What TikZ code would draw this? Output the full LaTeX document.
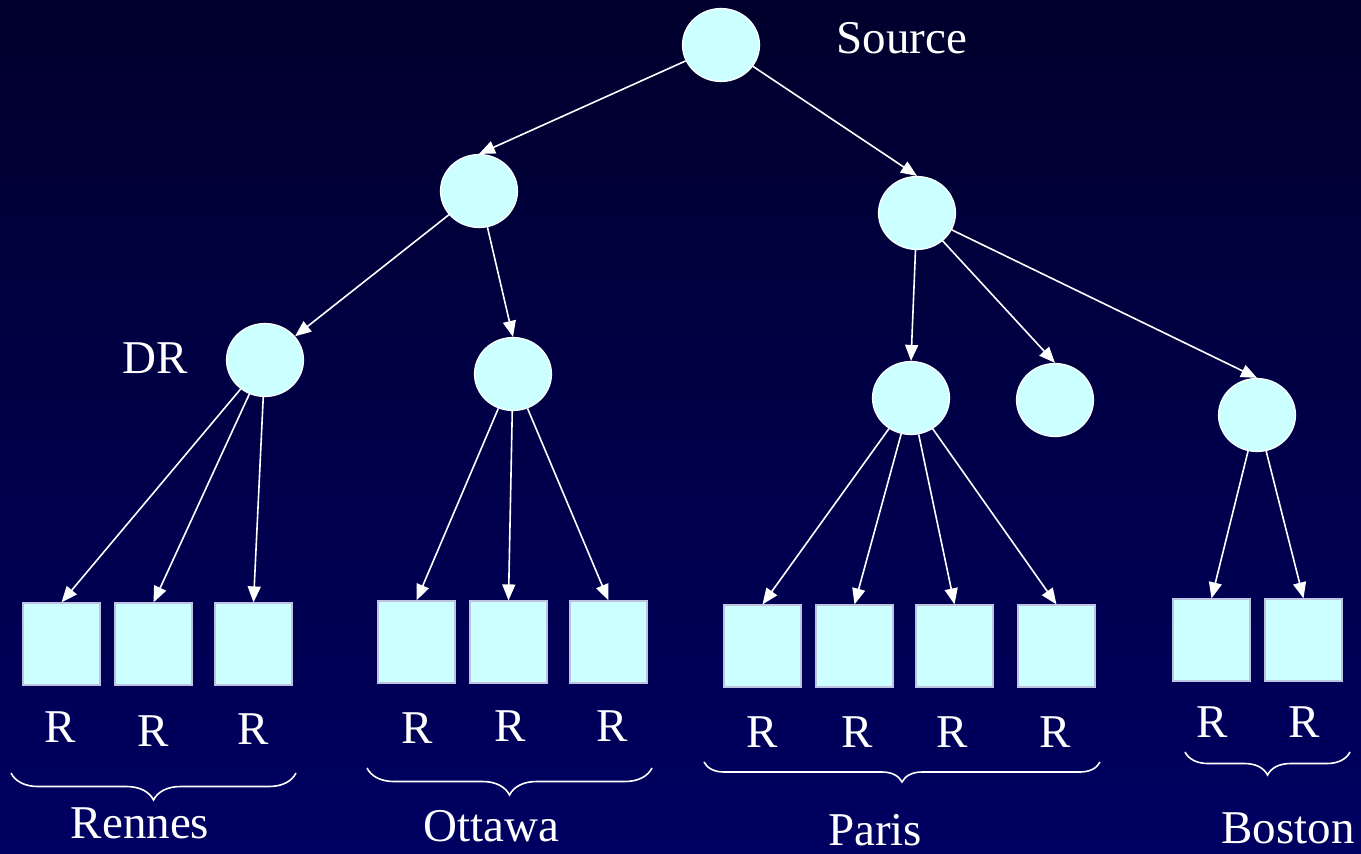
\documentclass[tikz,border=0pt]{standalone}
\usepackage{fontspec}
\setmainfont{Liberation Serif}
\usetikzlibrary{arrows.meta,shapes.geometric,decorations.pathreplacing}
\definecolor{bgtop}{RGB}{0,0,44}
\definecolor{bgbot}{RGB}{0,0,98}
\definecolor{cyanfill}{RGB}{204,255,255}
\definecolor{hostline}{RGB}{190,195,225}
\begin{document}
\begin{tikzpicture}[x=0.5pt,y=-0.5pt,
  router/.style={ellipse,draw=white,line width=0.6pt,fill=cyanfill,minimum width=38.5pt,minimum height=36.5pt,inner sep=0pt},
  host/.style={rectangle,draw=hostline,line width=0.6pt,fill=cyanfill,minimum width=38.5pt,minimum height=41pt,inner sep=0pt},
  link/.style={white,line width=0.8pt,-{Triangle[length=8pt,width=6.5pt]}},
  lbl/.style={text=white,font=\fontsize{23.5}{27}\selectfont,inner sep=0pt},
  grp/.style={white,line width=0.8pt,decorate,decoration={brace,mirror,amplitude=#1}}]
\shade[top color=bgtop,bottom color=bgbot] (0,0) rectangle (1361,853);
\node[router] (src) at (721,45) {};
\node[router] (n1) at (479,191) {};
\node[router] (n2) at (917,213) {};
\node[router] (dr) at (265,360) {};
\node[router] (ott) at (513,374) {};
\node[router] (par) at (911,398) {};
\node[router] (lone) at (1055,400) {};
\node[router] (bos) at (1257,415) {};
\node[lbl] (srclbl) at (902,38) {Source};
\node[lbl] (drlbl) at (155,358) {DR};
\node[host] (r1) at (61.5,644) {};
\node[host] (r2) at (153.5,644) {};
\node[host] (r3) at (253.5,644) {};
\node[host] (o1) at (416.5,642) {};
\node[host] (o2) at (508.5,642) {};
\node[host] (o3) at (608.5,642) {};
\node[host] (p1) at (762.5,646) {};
\node[host] (p2) at (854.5,646) {};
\node[host] (p3) at (954.5,646) {};
\node[host] (p4) at (1056.5,646) {};
\node[host] (b1) at (1211.5,640) {};
\node[host] (b2) at (1303.5,640) {};
\draw[link] (src) -- (n1.north);
\draw[link] (src) -- (n2.north);
\draw[link] (n1) -- (dr);
\draw[link] (n1) -- (ott.north);
\draw[link] (n2) -- (par.north);
\draw[link] (n2) -- (lone.north);
\draw[link] (n2) -- (bos.north);
\foreach \h in {r1,r2,r3} \draw[link] (dr) -- (\h.north);
\foreach \h in {o1,o2,o3} \draw[link] (ott) -- (\h.north);
\foreach \h in {p1,p2,p3,p4} \draw[link] (par) -- (\h.north);
\foreach \h in {b1,b2} \draw[link] (bos) -- (\h.north);
\node[lbl] (r1lbl) at (60,727) {R};
\node[lbl] (r2lbl) at (153,731) {R};
\node[lbl] (r3lbl) at (253,729) {R};
\node[lbl] (o1lbl) at (417,728) {R};
\node[lbl] (o2lbl) at (510,726) {R};
\node[lbl] (o3lbl) at (612,726) {R};
\node[lbl] (p1lbl) at (762,732) {R};
\node[lbl] (p2lbl) at (857,732) {R};
\node[lbl] (p3lbl) at (952,732) {R};
\node[lbl] (p4lbl) at (1055,732) {R};
\node[lbl] (b1lbl) at (1212,722) {R};
\node[lbl] (b2lbl) at (1304,722) {R};
\coordinate (ren0) at (11,773);
\coordinate (ren1) at (296,773);
\coordinate (ott0) at (367,768);
\coordinate (ott1) at (652,768);
\coordinate (par0) at (704,762);
\coordinate (par1) at (1100,762);
\coordinate (bos0) at (1185,752);
\coordinate (bos1) at (1350,752);
\draw[grp=13.5pt] (ren0) -- (ren1);
\draw[grp=13.5pt] (ott0) -- (ott1);
\draw[grp=10pt] (par0) -- (par1);
\draw[grp=11.5pt] (bos0) -- (bos1);
\node[lbl] (renlbl) at (140,823) {Rennes};
\node[lbl] (ottlbl) at (491,826) {Ottawa};
\node[lbl] (parlbl) at (875,830) {Paris};
\node[lbl] (boslbl) at (1288,828) {Boston};
\end{tikzpicture}
\end{document}
